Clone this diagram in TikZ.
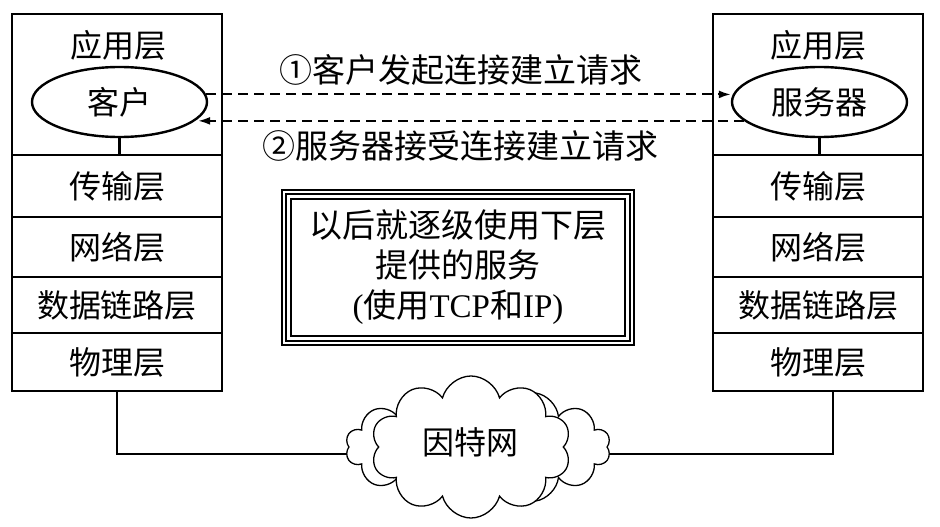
\documentclass[tikz,border=0pt]{standalone}
\usepackage{fontspec}
\setmainfont{Noto Sans CJK SC}
\newfontfamily\lat{Liberation Serif}
\usetikzlibrary{shapes.geometric,shapes.symbols,arrows.meta,calc}
\begin{document}
\begin{tikzpicture}[x=1pt,y=-1pt,
  txt/.style={font=\fontsize{32}{38}\selectfont,inner sep=0pt},
  bigtxt/.style={font=\fontsize{33}{38}\selectfont,inner sep=0pt},
  layerbox/.style={draw,line width=2.6pt,minimum width=210pt,inner sep=0pt,font=\fontsize{32}{38}\selectfont},
  hostell/.style={draw,ellipse,line width=2.4pt,minimum width=175pt,minimum height=70pt,inner sep=0pt,font=\fontsize{32}{38}\selectfont},
  dashline/.style={line width=2pt,dash pattern=on 10pt off 6pt,-{Latex[length=12pt,width=8pt]}},
  wire/.style={line width=2.6pt},
  cloudbox/.style={cloud,draw,fill=white,line width=1.3pt,cloud ignores aspect,inner sep=0pt,font=\fontsize{32}{38}\selectfont}
]
\useasboundingbox[fill=white] (0,0) rectangle (940,527);

% left stack
\node[layerbox,minimum height=141pt] (lapp) at (117,84.5) {};
\node[layerbox,minimum height=62pt] (ltrans) at (117,186) {传输层};
\node[layerbox,minimum height=60pt] (lnet) at (117,247) {网络层};
\node[layerbox,minimum height=56pt] (llink) at (117,305) {数据链路层};
\node[layerbox,minimum height=58pt] (lphys) at (117,362) {物理层};
\node[txt] (lapptxt) at (118,45) {应用层};
\node[hostell] (lcl) at (119.5,102) {客户};
\draw[wire] (lcl.south) -- (lcl.south |- lapp.south);

% right stack
\node[layerbox,minimum height=141pt] (rapp) at (818,84.5) {};
\node[layerbox,minimum height=62pt] (rtrans) at (818,186) {传输层};
\node[layerbox,minimum height=60pt] (rnet) at (818,247) {网络层};
\node[layerbox,minimum height=56pt] (rlink) at (818,305) {数据链路层};
\node[layerbox,minimum height=58pt] (rphys) at (818,362) {物理层};
\node[txt] (rapptxt) at (818,45) {应用层};
\node[hostell] (rsv) at (819.5,102) {服务器};
\draw[wire] (rsv.south) -- (rsv.south |- rapp.south);

% request arrows
\draw[dashline] (lcl.5) -- (lcl.5 -| rsv.west);
\draw[dashline] (rsv.194) -- (rsv.194 -| lcl.-12);
\node[bigtxt] (t1) at (461,70) {①客户发起连接建立请求};
\node[bigtxt] (t2) at (460,146) {②服务器接受连接建立请求};

% middle framed box
\node[draw,line width=2pt,minimum width=334pt,minimum height=137pt,align=center,inner sep=0pt,
      font=\fontsize{33}{40}\selectfont] (mid) at (458,267.5)
  {以后就逐级使用下层\\提供的服务\\{\lat(}使用{\lat TCP}和{\lat IP)}};
\draw[line width=1.1pt] ([shift={(-4,-4)}]mid.north west) rectangle ([shift={(4,4)}]mid.south east);
\draw[line width=1.1pt] ([shift={(-8,-8)}]mid.north west) rectangle ([shift={(8,8)}]mid.south east);

% internet cloud
\coordinate (cc) at (475,454);
\draw[wire] (lphys.south) |- (cc);
\draw[wire] ([xshift=15pt]rphys.south) |- (cc);
\node[cloudbox,cloud puffs=14,minimum width=265pt,minimum height=120pt] (cb) at (478,447) {};
\node[cloudbox,cloud puffs=10,minimum width=200pt,minimum height=142pt] (cf) at (471,447) {};
\node[txt] (inet) at (470,442) {因特网};
\end{tikzpicture}
\end{document}
